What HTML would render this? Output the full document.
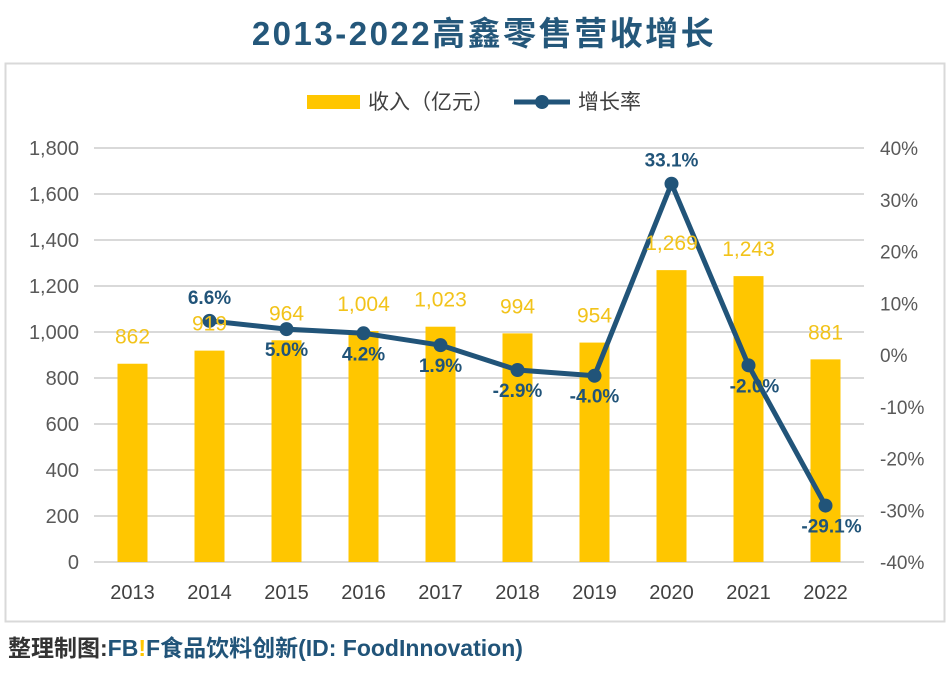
<!DOCTYPE html>
<html><head><meta charset="utf-8"><style>
body{margin:0;background:#fff;width:950px;height:670px;overflow:hidden;font-family:"Liberation Sans","Noto Sans CJK SC",sans-serif;}
</style></head><body>
<svg width="950" height="670">
<text x="484" y="45" text-anchor="middle" font-size="33" font-weight="bold" fill="#24577a" font-family="'Liberation Sans','Noto Sans CJK SC',sans-serif" letter-spacing="2.5">2013-2022高鑫零售营收增长</text>
<rect x="5.5" y="63.5" width="939" height="558" fill="#fff" stroke="#d9d9d9" stroke-width="2"/>
<g>
<rect x="307" y="95" width="53" height="14" fill="#ffc600"/>
<text x="368" y="109" font-size="21" fill="#404040" font-family="'Liberation Sans','Noto Sans CJK SC',sans-serif">收入（亿元）</text>
<line x1="514" y1="102" x2="570" y2="102" stroke="#215479" stroke-width="5"/>
<circle cx="542" cy="102" r="7" fill="#215479"/>
<text x="578" y="109" font-size="21" fill="#404040" font-family="'Liberation Sans','Noto Sans CJK SC',sans-serif">增长率</text>
</g>
<g id="grid"></g><g id="bars"></g><g id="line"></g><g id="labels"></g>
<text x="8" y="656" font-size="23" font-weight="bold" fill="#333" font-family="'Liberation Sans','Noto Sans CJK SC',sans-serif">整理制图:<tspan fill="#215479">FB</tspan><tspan fill="#ffc600">!</tspan><tspan fill="#215479">F食品饮料创新(ID: FoodInnovation)</tspan></text>
</svg>
<script>
const categories=["2013","2014","2015","2016","2017","2018","2019","2020","2021","2022"];
const revenue=[862,919,964,1004,1023,994,954,1269,1243,881];
const growth=[null,6.6,5.0,4.2,1.9,-2.9,-4.0,33.1,-2.0,-29.1];
const leftTicks=[0,200,400,600,800,1000,1200,1400,1600,1800];
const rightTicks=[-40,-30,-20,-10,0,10,20,30,40];
const NS="http://www.w3.org/2000/svg";
const X0=94,X1=864,Y0=562,Y1=148;
const band=(X1-X0)/categories.length;
const xc=i=>X0+band*(i+0.5);
const yL=v=>Y0-(v/1800)*(Y0-Y1);
const yR=v=>Y0-((v+40)/80)*(Y0-Y1);
function mk(tag,attrs,parent,text){const e=document.createElementNS(NS,tag);for(const k in attrs)e.setAttribute(k,attrs[k]);if(text!=null)e.textContent=text;document.getElementById(parent).appendChild(e);return e;}
const F="'Liberation Sans','Noto Sans CJK SC',sans-serif";
leftTicks.forEach(t=>{
 const l=mk('line',{x1:X0,x2:X1,y1:yL(t),y2:yL(t),stroke:'#d9d9d9','stroke-width':2},'grid');
 
 
 const tx=mk('text',{x:79,y:yL(t)+7,'text-anchor':'end','font-size':20,fill:'#595959','font-family':F},'grid',t.toLocaleString('en-US'));
 
 
});
rightTicks.forEach(t=>{
 const tx=mk('text',{x:880,y:yR(t)+7,'font-size':19,fill:'#595959','font-family':F},'grid',t+'%');
 
 
});
categories.forEach((c,i)=>{
 const tx=mk('text',{x:xc(i),y:599,'text-anchor':'middle','font-size':20,fill:'#404040','font-family':F},'grid',c);
 
 
});
revenue.forEach((v,i)=>{
 const r=mk('rect',{x:xc(i)-15,y:yL(v),width:30,height:Y0-yL(v),fill:'#ffc600'},'bars');
 
 
 const t=mk('text',{x:xc(i),y:yL(v)-20,'text-anchor':'middle','font-size':21,fill:'#f2c31a','font-family':F},'labels',v.toLocaleString('en-US'));
 
 
});
let d='';
growth.forEach((g,i)=>{if(g==null)return;d+=(d?'L':'M')+xc(i)+','+yR(g);});
const p=mk('path',{d:d,fill:'none',stroke:'#215479','stroke-width':5,'stroke-linejoin':'round'},'line');


growth.forEach((g,i)=>{
 if(g==null)return;
 const c=mk('circle',{cx:xc(i),cy:yR(g),r:7,fill:'#215479'},'line');
 
 
 const above = g>=5.5;
 const ty= above? yR(g)-17 : yR(g)+27;
 const t=mk('text',{x:xc(i)+(i===8||i===9?6:0),y:ty,'text-anchor':'middle','font-size':19,'font-weight':'bold',fill:'#215479','font-family':F},'labels',g.toFixed(1)+'%');
 
 
});
</script>
</body></html>
